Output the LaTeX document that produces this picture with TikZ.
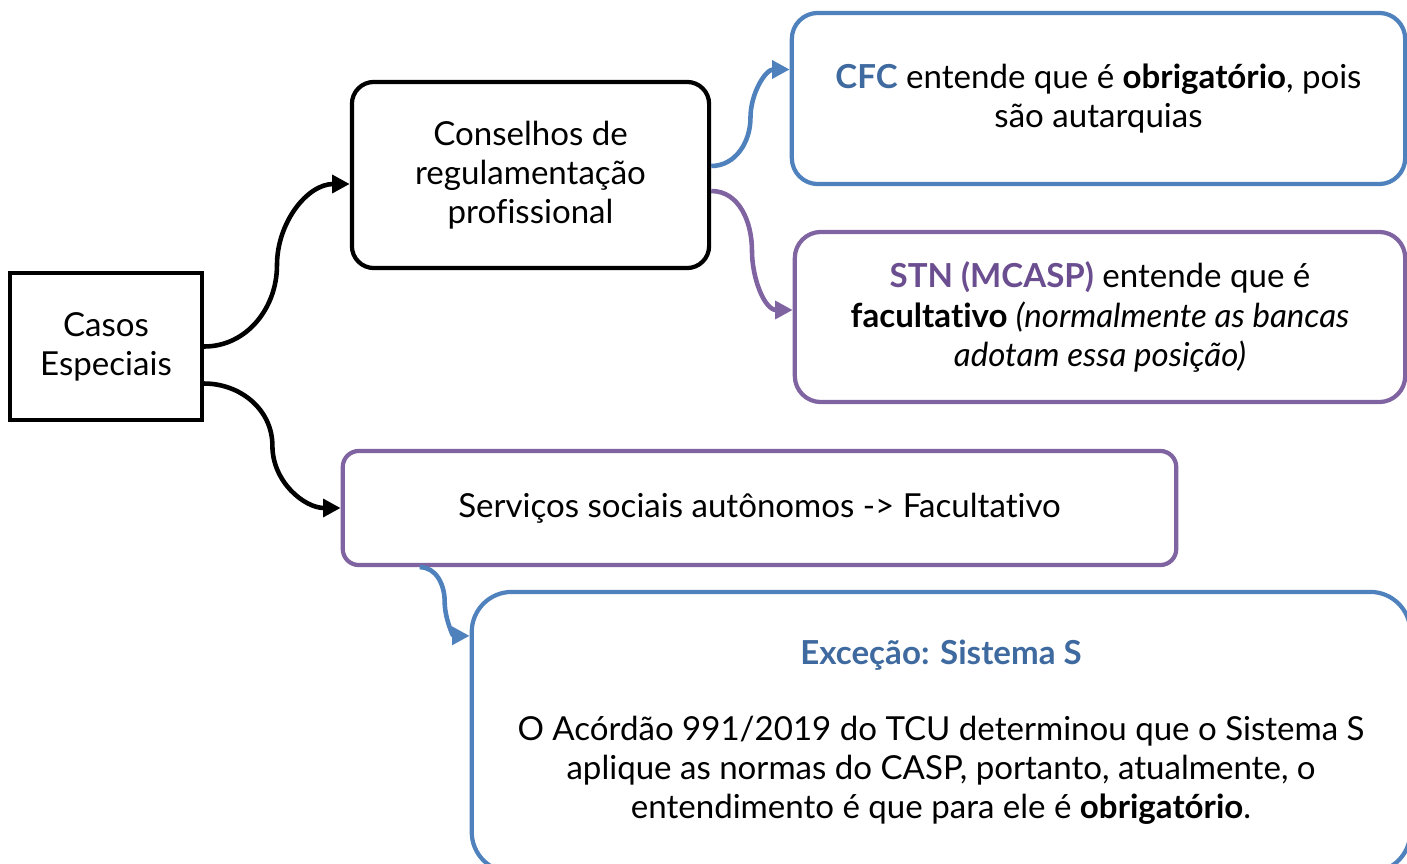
\documentclass[tikz,border=0pt]{standalone}
\usepackage{fontspec}
\setmainfont{Lato}[Ligatures=NoCommon]
\usetikzlibrary{calc,arrows.meta}
\definecolor{lineblue}{HTML}{4F81BD}
\definecolor{linepurple}{HTML}{8064A2}
\definecolor{textblue}{HTML}{3F6A9F}
\definecolor{textpurple}{HTML}{6B4E8F}

\tikzset{
  box/.style={draw, line width=1.2pt, align=center, inner sep=0pt,
    font=\fontsize{9.4}{11.1}\selectfont},
  link/.style={line width=1.3pt, -{Triangle[length=5pt,width=5pt]}}
}

\begin{document}
\begin{tikzpicture}[x=0.01cm,y=0.01cm]
  \useasboundingbox (0,0) rectangle (1407,863);
  \clip (0,0) rectangle (1407,863);

  %% Left column
  \node[box, minimum width=1.92cm, minimum height=1.47cm] (casos) at (106,516.5)
    {Casos\\Especiais};
  \node[box, rounded corners=0.22cm, minimum width=3.57cm, minimum height=1.86cm]
    (conselhos) at (530.5,688) {Conselhos de\\regulamentação\\profissional};
  \node[box, draw=linepurple, rounded corners=0.16cm, minimum width=8.33cm,
    minimum height=1.14cm] (servicos) at (759.5,355)
    {Serviços sociais autônomos -> Facultativo};

  %% Right column
  \node[box, draw=lineblue, rounded corners=0.26cm, minimum width=6.13cm,
    minimum height=1.71cm] (cfc) at (1098.5,764.5)
    {{\bfseries\color{textblue}CFC} entende que é \textbf{obrigatório}, pois\\
     são autarquias};
  \node[box, draw=linepurple, rounded corners=0.26cm, minimum width=6.10cm,
    minimum height=1.70cm] (stn) at (1100,546)
    {{\bfseries\color{textpurple}STN (MCASP)} entende que é\\
     \textbf{facultativo} \textit{(normalmente as bancas}\\
     \textit{adotam essa posição)}};
  \node[box, draw=lineblue, rounded corners=0.4cm, minimum width=9.38cm,
    minimum height=2.80cm] (excecao) at (941,131)
    {{\bfseries\color{textblue}Exceção: Sistema S}\\[10.5pt]
     O Acórdão 991/2019 do TCU determinou que o Sistema S\\
     aplique as normas do CASP, portanto, atualmente, o\\
     entendimento é que para ele é \textbf{obrigatório}.};

  %% Curved connectors
  \draw[link] (casos.east) to[out=0,in=-90]
    ($(casos.east)!0.5!([yshift=-0.09cm]conselhos.west)$) to[out=90,in=180]
    ([yshift=-0.09cm]conselhos.west);
  \draw[link] ([yshift=-0.37cm]casos.east) to[out=0,in=90]
    ($([yshift=-0.37cm]casos.east)!0.5!(servicos.west)$) to[out=-90,in=180]
    (servicos.west);
  \draw[link, lineblue] ([yshift=0.09cm]conselhos.east) to[out=0,in=-90]
    ($([yshift=0.09cm]conselhos.east)!0.5!([yshift=0.29cm]cfc.west)$)
    to[out=90,in=180] ([yshift=0.29cm]cfc.west);
  \draw[link, linepurple] ([yshift=-0.16cm]conselhos.east) to[out=0,in=90]
    ($([yshift=-0.16cm]conselhos.east)!0.5!([yshift=0.07cm]stn.west)$)
    to[out=-90,in=180] ([yshift=0.07cm]stn.west);
  \draw[link, lineblue] ([xshift=0.79cm]servicos.south west) to[out=0,in=90]
    ($([xshift=0.79cm]servicos.south west)!0.5!([yshift=-0.46cm]excecao.north west)$)
    to[out=-90,in=180] ([yshift=-0.46cm]excecao.north west);
\end{tikzpicture}
\end{document}
